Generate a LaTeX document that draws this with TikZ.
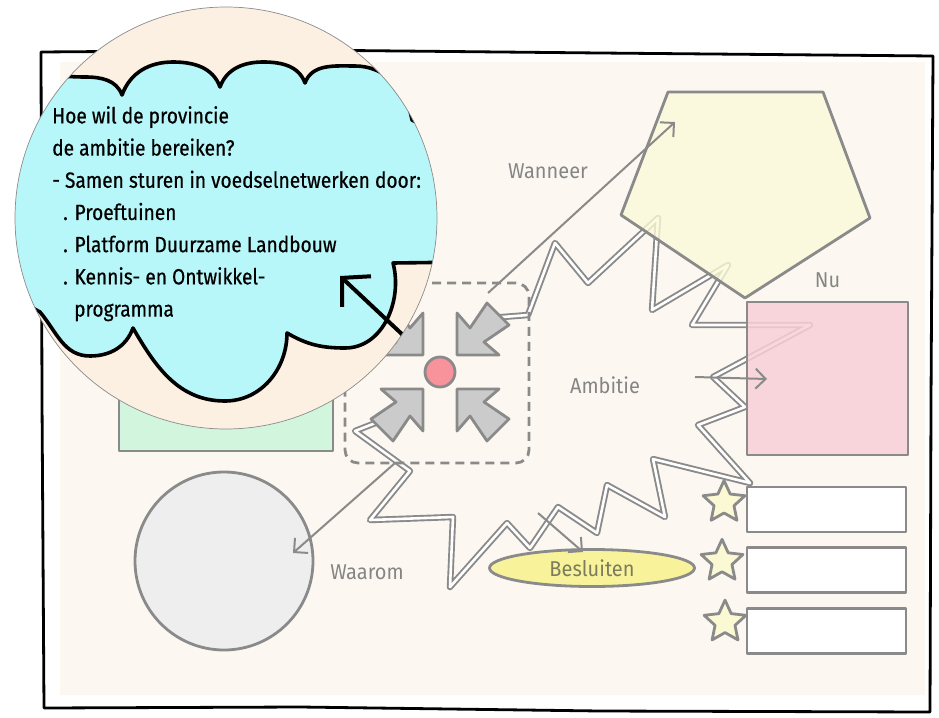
\documentclass[tikz,border=0pt]{standalone}
\usepackage{fontspec}
\setmainfont{Fira Sans}
\newfontfamily\lenstext{Fira Sans}[FakeStretch=0.87, FakeBold=0.5]
\newfontfamily\labeltext{Fira Sans}[FakeStretch=0.93]
\usetikzlibrary{positioning,shapes.geometric,arrows.meta}

\definecolor{paper}{HTML}{FCF8F1}
\definecolor{lensfill}{HTML}{FBF0E1}
\definecolor{cloudfill}{HTML}{B8F7F9}
\definecolor{pentafill}{HTML}{FBFAD8}
\definecolor{pinkfill}{HTML}{F8D0D6}
\definecolor{greenfill}{HTML}{D2F6DD}
\definecolor{greyfill}{HTML}{EEEEEE}
\definecolor{besluitfill}{HTML}{F8F39A}
\definecolor{starfill}{HTML}{FAF9D4}
\definecolor{dotfill}{HTML}{F8939B}
\definecolor{arrowfill}{HTML}{CBCBCB}
\definecolor{pen}{HTML}{8A8A8A}
\definecolor{labelgrey}{HTML}{858585}
\definecolor{olive}{HTML}{7C7C5C}

\begin{document}
\begin{tikzpicture}
  [
    x=1pt, y=1pt,
    sketch/.style={draw=pen, line width=2.8pt, line join=round},
    boxp/.style={rectangle, sketch, fill=pinkfill, fill opacity=0.85, draw opacity=1, inner sep=0pt, minimum width=161pt, minimum height=153pt},
    boxw/.style={rectangle, sketch, fill=white, inner sep=0pt, minimum width=159pt, minimum height=45pt},
    starn/.style={star, star points=5, star point ratio=2.1, sketch, fill=starfill, inner sep=0pt, minimum size=44pt},
    roundg/.style={circle, sketch, fill=greyfill, inner sep=0pt, minimum size=178pt},
    dotr/.style={circle, sketch, fill=dotfill, inner sep=0pt, minimum size=30pt},
    ellb/.style={ellipse, sketch, fill=besluitfill, inner sep=0pt, minimum width=205pt, minimum height=37pt, text=olive, font=\labeltext\fontsize{21.5pt}{24pt}\selectfont},
    dbox/.style={rectangle, draw=pen, line width=2.8pt, dash pattern=on 9pt off 6pt, rounded corners=13pt, minimum width=184pt, minimum height=180pt},
    garrow/.style={sketch, fill=arrowfill},
    burst/.style={draw=pen, line width=1.9pt, double=white, double distance=2.6pt, line join=round},
    conn/.style={draw=pen, line width=2pt, -{Straight Barb[length=10pt,width=20pt]}},
    lbl/.style={inner sep=0pt, text=labelgrey, font=\labeltext\fontsize{21.5pt}{24pt}\selectfont},
    lens/.style={circle, fill=lensfill, inner sep=0pt, minimum size=422pt},
    lensrim/.style={draw=black!45, line width=0.7pt},
    cloud/.style={fill=cloudfill, draw=black, line width=3.6pt, line join=round},
    qtext/.style={anchor=north west, inner sep=0pt, align=left, text=black, font=\lenstext\fontsize{22pt}{32.2pt}\selectfont},
    bigarrow/.style={draw=black, line width=4pt, line cap=round, -{Straight Barb[length=20pt,width=42pt]}},
    frame/.style={draw=black, line width=2.8pt, line join=round}
  ]
  \fill[white] (0,0) rectangle (939,-717);
  \useasboundingbox (0,0) rectangle (939,-717);

  % sheet
  \fill[paper] (60,-62) rectangle (925,-695);
  \draw[frame] (41,-52) -- (300,-50) -- (600,-53) -- (933,-56) -- (931,-400) -- (930,-712)
    -- (600,-711) -- (300,-707) -- (44,-708) -- (42,-400) -- cycle;

  % shapes on the sheet
  \draw[sketch, fill=greenfill] (119,-360) rectangle (333,-451);
  \node[roundg] (waarom) at (224,-561) {};
  \node[ellb] (besluit) at (592,-568) {Besluiten};
  \node[boxw] (box1) at (826.5,-509.5) {};
  \node[boxw] (box2) [below=13pt of box1] {};
  \node[boxw] (box3) [below=13pt of box2] {};
  \node[starn] (star1) [left=6pt of box1, yshift=7pt] {};
  \node[starn] (star2) [left=8pt of box2, yshift=9pt] {};
  \node[starn] (star3) [left=5pt of box3, yshift=9pt] {};

  % ambitie
  \draw[burst] (378,-422) -- (355,-431) -- (410,-471) -- (370,-520) -- (453,-517) -- (450,-587)
    -- (507,-523) -- (530,-548) -- (558,-507) -- (597,-533) -- (607,-485) -- (665,-517)
    -- (653,-459) -- (750,-483) -- (698,-425) -- (745,-407) -- (713,-377) -- (810,-325)
    -- (692,-325) -- (728,-265) -- (652,-310) -- (658,-218) -- (588,-283) -- (555,-243)
    -- (528,-315) -- (490,-318);

  \node[boxp] (nu) at (827.5,-378.5) {};
  \draw[sketch, fill=pentafill, fill opacity=0.8] (668,-92) -- (823,-92) -- (870,-218)
    -- (745,-298) -- (621,-215) -- cycle;

  % hoe
  \node[dbox] (hoe) at (437,-373) {};
  \foreach \r in {0,90,180,270}
  {
    \begin{scope}[shift={(440,-372)}, rotate=\r]
      \draw[garrow] (-17,-17) -- (-59,-17) -- (-44,-30) -- (-69,-47) -- (-47,-69)
        -- (-30,-44) -- (-17,-59) -- cycle;
    \end{scope}
  }
  \node[dotr] (hub) at (440,-372) {};

  % connectors
  \coordinate (wanneerfrom) at (488,-293);
  \coordinate (wanneerto) at (675,-122);
  \coordinate (waaromfrom) at (395,-463);
  \coordinate (waaromto) at (293,-553);
  \coordinate (nufrom) at (695,-377);
  \coordinate (nuto) at (767,-379);
  \coordinate (besluitfrom) at (538,-513);
  \coordinate (besluitto) at (583,-552);
  \draw[conn] (wanneerfrom) -- (wanneerto);
  \draw[conn] (waaromfrom) -- (waaromto);
  \draw[conn] (nufrom) -- (nuto);
  \draw[conn] (besluitfrom) -- (besluitto);

  % labels
  \node[lbl] (lwanneer) at (548,-171) {Wanneer};
  \node[lbl] (lambitie) at (605,-385) {Ambitie};
  \node[lbl] (lwaarom) at (367,-572) {Waarom};
  \node[lbl] (lnu) [above=13pt of nu] {Nu};

  % magnifier
  \node[lens] (lens) at (226,-218) {};
  \coordinate (armfrom) at (405,-337);
  \coordinate (armto) at (340,-276);
  \begin{scope}
    \clip (lens.center) circle[radius=211];
    \draw[cloud] (0,-100) to[out=70,in=180] (85,-77) to[out=0,in=110] (122,-95)
      to[out=70,in=180] (173,-62) to[out=0,in=110] (220,-87)
      to[out=70,in=180] (263,-62) to[out=0,in=110] (305,-83)
      to[out=70,in=180] (355,-66) to[out=0,in=100] (412,-120)
      -- (470,-150) -- (470,-262) -- (393,-263)
      to[out=-75,in=0] (345,-348) to[out=180,in=-30] (287,-333)
      to[out=-90,in=0] (225,-401) to[out=180,in=-60] (133,-328)
      to[out=-110,in=0] (90,-356) to[out=180,in=-50] (40,-312)
      -- (0,-290) -- cycle;
    \node[qtext] (question) at (52,-106) {Hoe wil de provincie\\
      de ambitie bereiken?\\
      - Samen sturen in voedselnetwerken door:\\
      \hspace*{11pt}. Proeftuinen\\
      \hspace*{11pt}. Platform Duurzame Landbouw\\
      \hspace*{11pt}. Kennis- en Ontwikkel-\\
      \hspace*{22pt}programma};
    \draw[bigarrow] (armfrom) -- (armto);
  \end{scope}
  \draw[lensrim] (lens.center) circle[radius=211];
\end{tikzpicture}
\end{document}
